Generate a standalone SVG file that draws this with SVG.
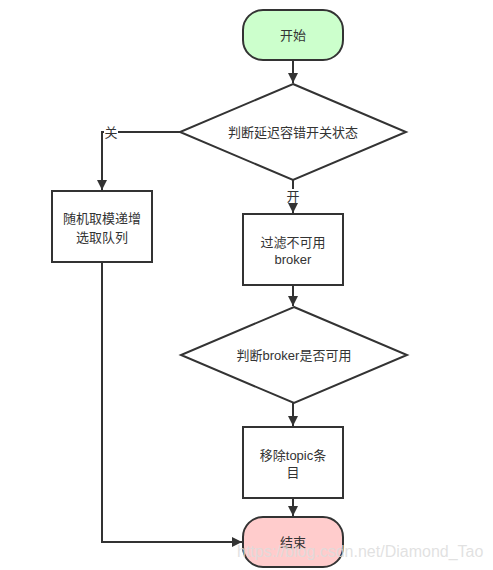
<svg xmlns="http://www.w3.org/2000/svg" width="493" height="570" viewBox="0 0 493 570">
<defs>
<style>
.s{stroke:#333;stroke-width:2;}
.n{fill:#fff;}
.t{font-family:"Liberation Sans","Noto Sans CJK SC",sans-serif;font-size:13px;fill:#333;text-anchor:middle;dominant-baseline:central;}
.c{fill:none;stroke:#333;stroke-width:2;}
.wm{font-family:"Liberation Sans",sans-serif;font-size:16px;fill:#dcdcdc;fill-opacity:0.85;}
</style>
<marker id="ah" viewBox="0 0 10 10" refX="10" refY="5" markerWidth="5" markerHeight="5" orient="auto" markerUnits="strokeWidth">
<path d="M0,0 L10,5 L0,10 Z" fill="#333"/>
</marker>
</defs>
<rect width="493" height="570" fill="#fff"/>
<g id="connectors">
<path class="c" d="M293,61 L293,83" marker-end="url(#ah)"/>
<path class="c" d="M293,180 L293,213" marker-end="url(#ah)"/>
<path class="c" d="M293,285 L293,306" marker-end="url(#ah)"/>
<path class="c" d="M293,403 L293,426" marker-end="url(#ah)"/>
<path class="c" d="M293,498 L293,516" marker-end="url(#ah)"/>
<path class="c" d="M180,132 L102,132 L102,190" marker-end="url(#ah)"/>
<path class="c" d="M102,262 L102,542 L242,542" marker-end="url(#ah)"/>
<rect x="104" y="125" width="14" height="14" fill="#fff"/>
<text class="t" x="111" y="132">关</text>
<rect x="286" y="189" width="14" height="14" fill="#fff"/>
<text class="t" x="293" y="196">开</text>
</g>
<g id="start">
<rect class="s" x="243" y="10" width="100" height="50" rx="20" fill="#ccffcc"/>
<text class="t" x="293" y="35">开始</text>
</g>
<g id="decision1">
<polygon class="s n" points="293,84 406,132 293,180 180,132"/>
<text class="t" x="293" y="132">判断延迟容错开关状态</text>
</g>
<g id="random">
<rect class="s n" x="52" y="191" width="100" height="71"/>
<text class="t" x="102" y="218">随机取模递增</text>
<text class="t" x="102" y="237">选取队列</text>
</g>
<g id="filter">
<rect class="s n" x="243" y="214" width="100" height="71"/>
<text class="t" x="293" y="242">过滤不可用</text>
<text class="t" x="293" y="259">broker</text>
</g>
<g id="decision2">
<polygon class="s n" points="294,307 407,355 294,403 181,355"/>
<text class="t" x="294" y="355">判断broker是否可用</text>
</g>
<g id="remove">
<rect class="s n" x="243" y="427" width="100" height="71"/>
<text class="t" x="293" y="455">移除topic条</text>
<text class="t" x="293" y="472">目</text>
</g>
<g id="end">
<rect class="s" x="243" y="517" width="100" height="50" rx="20" fill="#ffcccc"/>
<text class="t" x="293" y="542">结束</text>
</g>
<text class="wm" x="237" y="557">https://blog.csdn.net/Diamond_Tao</text>
</svg>
